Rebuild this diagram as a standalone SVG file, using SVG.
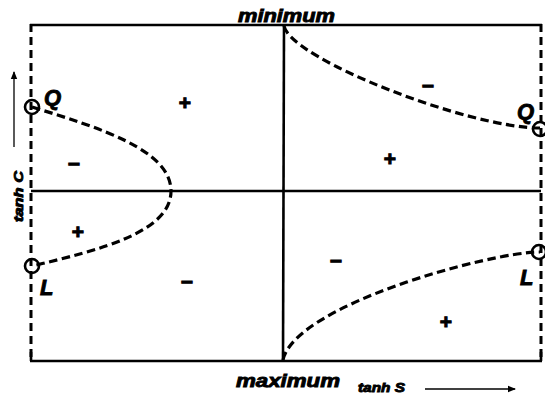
<svg xmlns="http://www.w3.org/2000/svg" width="545" height="398" viewBox="0 0 545 398">
<style>
.solid{stroke:#000;stroke-width:2.6;fill:none}
.edge{stroke:#000;stroke-width:3;fill:none;stroke-dasharray:8 5}
.curve{stroke:#000;stroke-width:3.2;fill:none;stroke-dasharray:8.5 4.5}
.ring{stroke:#000;stroke-width:2.6;fill:none}
.lbl{font-family:"Liberation Sans",Arial,sans-serif;font-weight:bold;font-style:italic;fill:#000;stroke:#000;stroke-width:0.9}
.sign{font-family:"Liberation Sans",Arial,sans-serif;font-weight:bold;fill:#000;stroke:#000;stroke-width:1;font-size:21px;text-anchor:middle}
</style>
<defs>
<marker id="ah" markerWidth="8" markerHeight="8" refX="7" refY="4" orient="auto" markerUnits="userSpaceOnUse">
<path d="M0,0.8 L8,4 L0,7.2 z" fill="#000"/>
</marker>
</defs>
<rect width="545" height="398" fill="#fff"/>
<g id="frame">
<line class="solid" x1="30" y1="25" x2="542" y2="25"/>
<line class="solid" x1="30" y1="361" x2="542" y2="361"/>
<line class="edge" x1="31" y1="24" x2="31" y2="361"/>
<line class="edge" x1="541" y1="24" x2="541" y2="361"/>
<line class="solid" x1="31" y1="352" x2="31" y2="361"/>
<line class="solid" x1="541" y1="352" x2="541" y2="361"/>
<line class="solid" x1="284" y1="25" x2="283" y2="361"/>
<line class="solid" x1="31" y1="191" x2="541" y2="191"/>
</g>
<g id="connectors">
<path class="curve" d="M32,107 C100,128 171,150 171,191 C171,232 100,250 32,266"/>
<path class="curve" d="M284,26 C292,60 470,128 540,128"/>
<path class="curve" d="M283,360 C295,305 490,252 540,252"/>
</g>
<g id="Q-left">
<circle class="ring" cx="32" cy="107" r="7"/>
<text class="lbl" x="44" y="105" font-size="22">Q</text>
</g>
<g id="L-left">
<circle class="ring" cx="32" cy="266" r="7"/>
<text class="lbl" x="40" y="295" font-size="22">L</text>
</g>
<g id="Q-right">
<circle class="ring" cx="540" cy="129" r="7"/>
<text class="lbl" x="517" y="119" font-size="22">Q</text>
</g>
<g id="L-right">
<circle class="ring" cx="539" cy="252" r="7"/>
<text class="lbl" x="520" y="285" font-size="22">L</text>
</g>
<g id="labels">
<text class="lbl" x="238" y="22" font-size="18" textLength="97" lengthAdjust="spacingAndGlyphs">minimum</text>
<text class="lbl" x="236" y="387" font-size="18" textLength="104" lengthAdjust="spacingAndGlyphs">maximum</text>
<text class="lbl" x="358" y="392" font-size="13" stroke-width="0.6" textLength="47" lengthAdjust="spacingAndGlyphs">tanh S</text>
<text class="lbl" transform="translate(23,222) rotate(-90)" font-size="13" stroke-width="0.6" textLength="51" lengthAdjust="spacingAndGlyphs">tanh C</text>
<line x1="425" y1="389" x2="515" y2="389" stroke="#000" stroke-width="1.3" marker-end="url(#ah)"/>
<line x1="14" y1="147" x2="14" y2="72" stroke="#000" stroke-width="1.3" marker-end="url(#ah)"/>
</g>
<g id="signs">
<text class="sign" x="185" y="110">+</text>
<text class="sign" x="74" y="171">−</text>
<text class="sign" x="78" y="239">+</text>
<text class="sign" x="187" y="289">−</text>
<text class="sign" x="428" y="93">−</text>
<text class="sign" x="390" y="166">+</text>
<text class="sign" x="336" y="268">−</text>
<text class="sign" x="446" y="329">+</text>
</g>
</svg>
